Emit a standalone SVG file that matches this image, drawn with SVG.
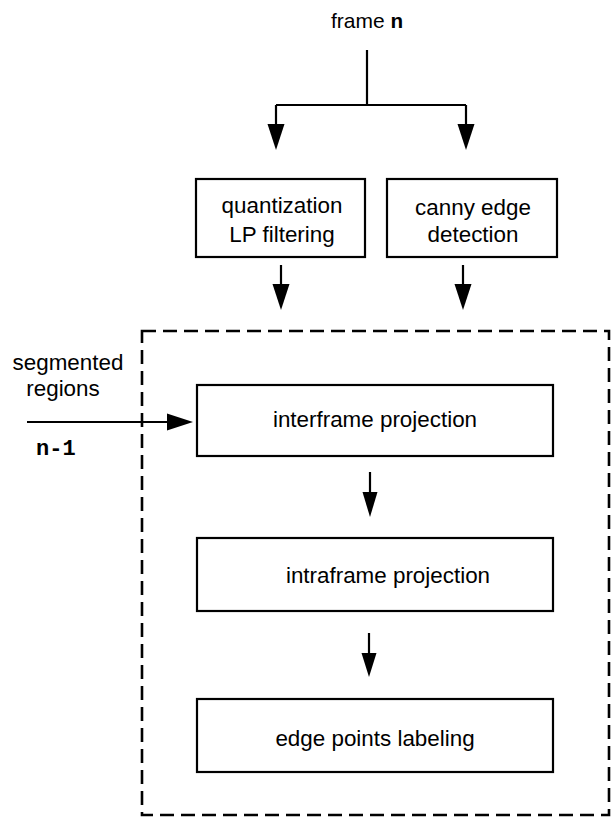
<svg xmlns="http://www.w3.org/2000/svg" width="616" height="817" viewBox="0 0 616 817">
<style>
.box{fill:#fff;stroke:#000;stroke-width:2.2}
.t{font-family:"Liberation Sans",Arial,sans-serif;font-size:22.4px;fill:#000}
.m{font-family:"Liberation Mono","Courier New",monospace;font-weight:bold;fill:#000}
.ln{fill:none;stroke:#000;stroke-width:2.2}
.dash{fill:none;stroke:#000;stroke-width:2.6;stroke-dasharray:14 7}
</style>
<defs>
<marker id="ah" markerWidth="12" markerHeight="8" refX="12" refY="4" orient="auto" markerUnits="userSpaceOnUse" viewBox="0 0 12 8">
<path d="M0,0 L12,4 L0,8 Z" fill="#000"/>
</marker>
</defs>
<rect width="616" height="817" fill="#fff"/>
<g id="frame-label">
<text class="t" x="367" y="28" text-anchor="middle" style="font-size:21px">frame <tspan class="m">n</tspan></text>
</g>
<g id="dashed-region">
<rect class="dash" x="142" y="331" width="467" height="484"/>
</g>
<g id="connectors">
<path class="ln" d="M367,50 V105 M276,105 H466 M276,105 V126 M466,105 V126"/>
<path d="M267.5,124 L284.5,124 L276,150 Z" fill="#000"/>
<path d="M457.5,124 L474.5,124 L466,150 Z" fill="#000"/>
<path class="ln" d="M281,265 V286 M463,265 V286"/>
<path d="M272.5,284 L289.5,284 L281,310 Z" fill="#000"/>
<path d="M454.5,284 L471.5,284 L463,310 Z" fill="#000"/>
<path class="ln" d="M27,422 H170"/>
<path d="M167,413.5 L193,422 L167,430.5 Z" fill="#000"/>
<path class="ln" d="M370,472 V494"/>
<path d="M362.5,492 L377.5,492 L370,517 Z" fill="#000"/>
<path class="ln" d="M369,633 V655"/>
<path d="M361.5,653 L376.5,653 L369,677 Z" fill="#000"/>
</g>
<g id="quantization">
<rect class="box" x="196" y="179" width="169" height="78"/>
<text class="t" x="282" y="213" text-anchor="middle">quantization</text>
<text class="t" x="282" y="242" text-anchor="middle">LP filtering</text>
</g>
<g id="canny">
<rect class="box" x="387" y="179" width="170" height="78"/>
<text class="t" x="473" y="215" text-anchor="middle">canny edge</text>
<text class="t" x="473" y="242" text-anchor="middle">detection</text>
</g>
<g id="segmented-input">
<text class="t" x="68" y="370" text-anchor="middle">segmented</text>
<text class="t" x="63" y="396" text-anchor="middle">regions</text>
<text class="m" x="36" y="455" style="font-size:22px">n-1</text>
</g>
<g id="interframe">
<rect class="box" x="197" y="385" width="356" height="71"/>
<text class="t" x="375" y="427" text-anchor="middle">interframe projection</text>
</g>
<g id="intraframe">
<rect class="box" x="197" y="538" width="356" height="73"/>
<text class="t" x="388" y="583" text-anchor="middle">intraframe projection</text>
</g>
<g id="edge-labeling">
<rect class="box" x="197" y="699" width="356" height="73"/>
<text class="t" x="375" y="746" text-anchor="middle">edge points labeling</text>
</g>
</svg>
